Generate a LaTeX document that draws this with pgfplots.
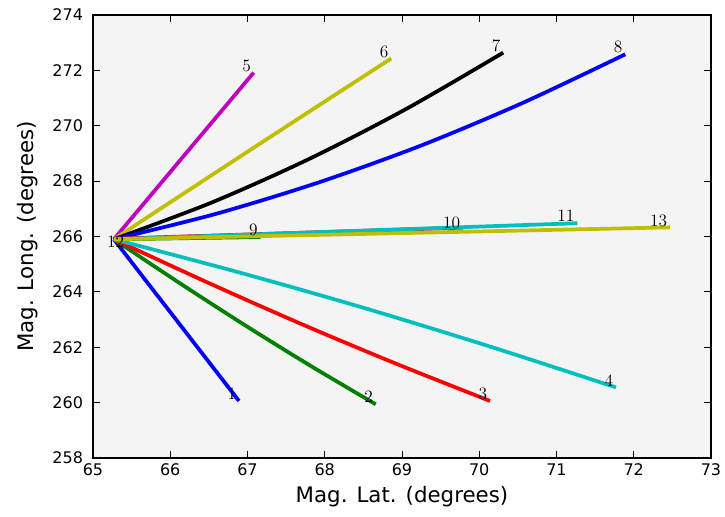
\documentclass[border=0pt]{standalone}
\usepackage{fontspec}
\setsansfont{DejaVu Sans}
\usepackage{pgfplots}
\pgfplotsset{compat=1.18}
\usetikzlibrary{calc}
\definecolor{mb}{rgb}{0,0,1}
\definecolor{mg}{rgb}{0,0.5,0}
\definecolor{mr}{rgb}{1,0,0}
\definecolor{mc}{rgb}{0,0.75,0.75}
\definecolor{mm}{rgb}{0.75,0,0.75}
\definecolor{my}{rgb}{0.75,0.75,0}
\definecolor{bgc}{RGB}{244,244,244}
\begin{document}
\begin{tikzpicture}
\begin{axis}[
  scale only axis, width=463.5pt, height=332.25pt,
  xmin=65, xmax=73, ymin=258, ymax=274,
  xtick={65,66,...,73}, ytick={258,260,...,274},
  axis background/.style={fill=bgc},
  axis line style={line width=0.9pt},
  major tick length=5pt,
  tick style={black, line width=0.6pt},
  /pgf/number format/assume math mode=true,
  /pgf/number format/1000 sep={},
  tick label style={font=\sffamily\fontsize{12}{14}\selectfont},
  yticklabel style={xshift=-4pt},
  xticklabel style={yshift=-1pt},
  label style={font=\sffamily\fontsize{16}{19}\selectfont},
  xlabel={Mag. Lat. (degrees)},
  ylabel={Mag. Long. (degrees)},
  xlabel style={yshift=-1pt},
  ylabel style={yshift=4pt},
  every axis plot/.append style={line width=2.8pt, no marks, smooth, tension=0.5, line cap=butt, line join=round},
  clip=false,
]
\addplot[mb] coordinates {(65.27,265.9) (66.08,262.98) (66.89,260.06)};
\addplot[mg] coordinates {(65.27,265.9) (66.12,264.32) (66.965,262.80) (67.81,261.34) (68.66,259.94)};
\addplot[mr] coordinates {(65.27,265.9) (66.49,264.33) (67.705,262.83) (68.92,261.41) (70.14,260.06)};
\addplot[mc] coordinates {(65.27,265.9) (66.895,264.70) (68.52,263.41) (70.145,262.02) (71.77,260.55)};
\addplot[mm] coordinates {(65.27,265.9) (67.08,271.92)};
\addplot[my] coordinates {(65.27,265.9) (67.06,269.17) (68.86,272.43)};
\addplot[black] coordinates {(65.27,265.9) (66.53,267.22) (67.79,268.79) (69.05,270.60) (70.31,272.64)};
\addplot[mb] coordinates {(65.27,265.9) (66.594,266.82) (67.918,267.95) (69.242,269.28) (70.566,270.83) (71.89,272.58)};
\addplot[mg] coordinates {(65.27,265.9) (67.17,265.98)};
\addplot[mr] coordinates {(65.27,265.92) (69.79,266.32)};
\addplot[mc] coordinates {(65.27,265.9) (71.27,266.48)};
\addplot[mm] coordinates {(65.27,265.9) (65.29,265.9)};
\addplot[my] coordinates {(65.27,265.9) (72.47,266.33)};
\begin{scope}[every node/.style={anchor=base east, font=\fontsize{13}{15}\selectfont, inner sep=0pt, xshift=-2pt, yshift=1pt}]
\node at (axis cs:66.89,260.06) {1};
\node at (axis cs:68.66,259.94) {2};
\node at (axis cs:70.14,260.06) {3};
\node at (axis cs:71.77,260.55) {4};
\node at (axis cs:67.08,271.92) {5};
\node at (axis cs:68.86,272.43) {6};
\node at (axis cs:70.31,272.64) {7};
\node at (axis cs:71.89,272.58) {8};
\node at (axis cs:67.17,265.98) {9};
\node at (axis cs:69.79,266.24) {10};
\node at (axis cs:71.27,266.48) {11};
\node at (axis cs:65.44,265.55) {12};
\node at (axis cs:72.47,266.33) {13};
\end{scope}
\coordinate (sw) at (rel axis cs:0,0);
\coordinate (ne) at (rel axis cs:1,1);
\end{axis}
\pgfresetboundingbox
\path ($(sw)+(-69.75pt,-43.5pt)$) rectangle ($(ne)+(10.5pt,11.25pt)$);
\end{tikzpicture}
\end{document}
